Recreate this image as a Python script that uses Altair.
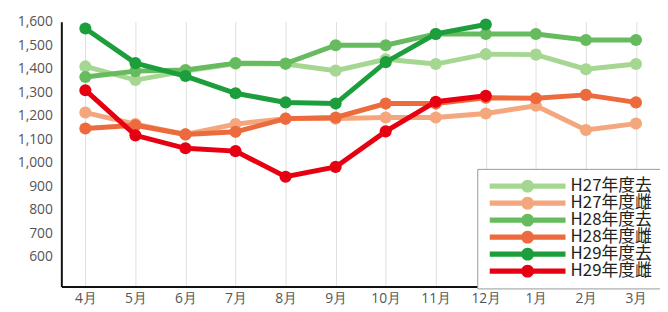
import altair as alt
import pandas as pd

months = ["4月", "5月", "6月", "7月", "8月", "9月", "10月", "11月", "12月", "1月", "2月", "3月"]
series = ["H27年度去", "H27年度雌", "H28年度去", "H28年度雌", "H29年度去", "H29年度雌"]
colors = ["#a6d792", "#f4a67c", "#66bb5e", "#ec6a3c", "#1d9e3c", "#e60012"]

h27_kyo = [1410, 1352, 1390, 1422, 1420, 1392, 1440, 1420, 1462, 1460, 1398, 1420]
h27_mesu = [1214, 1165, 1121, 1165, 1188, 1188, 1193, 1193, 1210, 1243, 1140, 1167]
h28_kyo = [1365, 1390, 1395, 1424, 1422, 1500, 1500, 1548, 1548, 1548, 1522, 1522]
h28_mesu = [1146, 1160, 1121, 1132, 1188, 1193, 1252, 1252, 1277, 1275, 1289, 1257]
h29_kyo = [1571, 1424, 1369, 1296, 1257, 1252, 1428, 1548, 1588, None, None, None]
h29_mesu = [1309, 1117, 1062, 1050, 941, 983, 1134, 1260, 1285, None, None, None]

values = [h27_kyo, h27_mesu, h28_kyo, h28_mesu, h29_kyo, h29_mesu]

rows = []
for s, vals in zip(series, values):
    for m, v in zip(months, vals):
        if v is not None:
            rows.append({"series": s, "series_pt": s, "month": m, "value": v})
df = pd.DataFrame(rows)

x_enc = alt.X("month:N", sort=months,
              scale=alt.Scale(type="point", padding=0.48),
              axis=alt.Axis(title=None, labelAngle=0, ticks=False, grid=True,
                            gridColor="#dedede", gridWidth=1,
                            domainColor="#111", domainWidth=2,
                            labelColor="#555", labelFontSize=14,
                            labelFont="Open Sans", labelPadding=5))
y_enc = alt.Y("value:Q",
              scale=alt.Scale(domain=[475, 1600], nice=False, zero=False),
              axis=alt.Axis(title=None, values=list(range(600, 1700, 100)),
                            format=",d", ticks=False, grid=False,
                            domainColor="#111", domainWidth=2,
                            labelColor="#555", labelFontSize=14,
                            labelFont="Open Sans", labelPadding=9))

# legend symbol: a bar with a dot in the middle (unit = 6.5px)
legend_symbol = ("M-5.9,-0.4L5.9,-0.4L5.9,0.4L-5.9,0.4Z"
                 "M1,0A1,1 0 1 1 -1,0A1,1 0 1 1 1,0Z")

legend = alt.Legend(title=None, orient="none", legendX=421, legendY=149,
                    symbolType=legend_symbol, symbolSize=169,
                    symbolStrokeWidth=0, symbolOffset=33.5, labelOffset=35,
                    labelFont="Noto Sans CJK JP", labelFontSize=17,
                    labelColor="#222", rowPadding=-0.8, padding=9,
                    strokeColor="#999", fillColor="white")

layers = []
for s in series:
    base = alt.Chart(df).transform_filter(alt.datum.series == s)
    layers.append(base.mark_line(strokeWidth=5).encode(
        x=x_enc, y=y_enc,
        color=alt.Color("series:N", scale=alt.Scale(domain=series, range=colors),
                        legend=None)))
    layers.append(base.mark_point(filled=True, size=150, opacity=1).encode(
        x=x_enc, y=y_enc,
        fill=alt.Fill("series_pt:N", scale=alt.Scale(range=colors),
                      legend=legend)))

chart = alt.layer(*layers).properties(
    width=606, height=268,
    padding={"left": 54, "top": 12, "right": 0, "bottom": 24},
    autosize=alt.AutoSizeParams(type="none"),
).configure_view(stroke=None)

chart.save("out.html", embed_options={"renderer": "svg", "actions": False})
